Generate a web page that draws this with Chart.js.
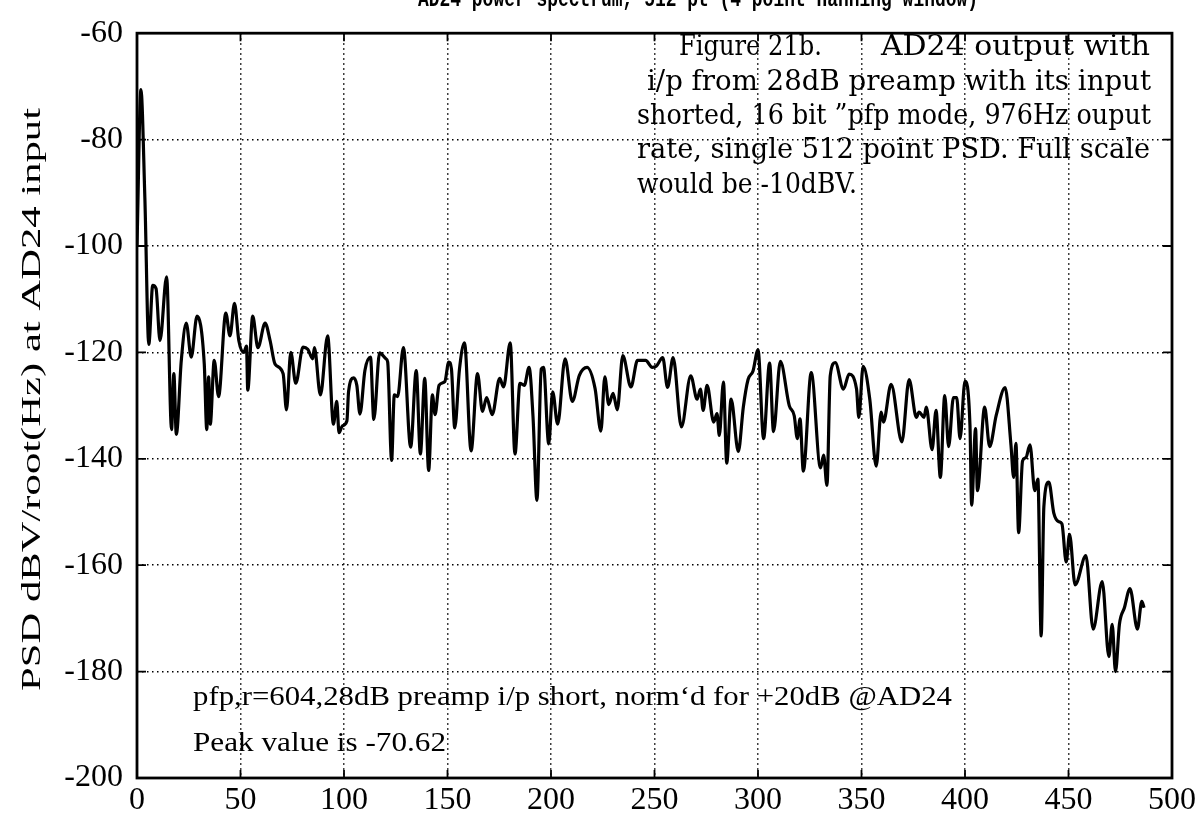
<!DOCTYPE html>
<html>
<head>
<meta charset="utf-8">
<script src="https://cdn.jsdelivr.net/npm/chart.js@4.4.1/dist/chart.umd.min.js"></script>
<style>
  html, body { margin: 0; padding: 0; background: #fff; }
  #wrap { width: 1202px; height: 824px; }
</style>
</head>
<body>
<div id="wrap"><canvas id="psdChart" width="1202" height="824"></canvas></div>
<script>
// frequency (Hz) and PSD (dBV/root(Hz))
const freqHz = [
  0, 1.9, 3.8, 5.7, 7.6, 9.2, 11.1, 14.3, 16.7, 17.8, 19.0, 21.4, 23.8, 26.2, 29.0,
  32.5, 33.7, 34.6, 35.4, 37.3, 39.4, 42.9, 44.9, 47.1, 49.2, 51.6, 52.9, 53.5, 55.9,
  58.4, 61.9, 64.3, 66.7, 70.6, 72.2, 74.3, 76.7, 80.2, 82.5, 84.9, 85.7, 88.6, 92.1,
  94.9, 96.5, 97.6, 99.2, 101.4, 102.2, 104.6, 106.2, 107.7, 110.1, 112.8, 114.4,
  117.2, 120.3, 121.1, 123.0, 124.3, 125.9, 128.7, 132.2, 134.9, 136.9, 139.0, 140.9,
  142.7, 144.0, 145.9, 148.7, 150.6, 151.9, 153.5, 155.8, 158.2, 161.4, 164.5, 166.9,
  168.9, 171.6, 175.2, 177.1, 180.3, 182.6, 185.0, 187.1, 189.4, 191.3, 193.2, 195.3,
  196.4, 198.9, 200.8, 203.2, 206.8, 210.3, 213.7, 217.4, 221.3, 224.1, 226.0, 227.9,
  230.0, 232.0, 234.7, 238.6, 241.8, 245.7, 248.9, 250.8, 254.0, 256.3, 259.0, 263.0,
  267.5, 270.6, 272.2, 273.5, 275.4, 278.6, 280.2, 281.3, 283.3, 284.9, 287.0, 290.5,
  292.9, 295.2, 297.6, 300.0, 302.7, 305.6, 307.5, 310.8, 315.1, 317.5, 319.0, 320.3,
  321.9, 325.7, 330.2, 331.7, 333.3, 334.9, 337.3, 341.3, 344.0, 347.6, 348.7, 350.8,
  354.0, 357.1, 359.5, 360.6, 364.3, 369.5, 373.0, 376.5, 377.8, 380.2, 381.3, 384.1,
  386.0, 388.1, 390.2, 392.1, 394.4, 396.0, 397.6, 400.0, 402.4, 403.2, 405.1, 406.0,
  409.5, 411.9, 415.1, 419.4, 422.2, 423.5, 424.6, 425.9, 427.8, 429.4, 431.4, 433.7,
  435.2, 436.8, 438.1, 440.5, 442.9, 445.2, 446.8, 448.9, 450.5, 453.2, 458.4, 461.9,
  466.3, 469.5, 471.1, 472.7, 474.6, 477.0, 479.7, 483.3, 485.4, 486.5
];
const psdDb = [
  -100, -70.62, -91, -118.5, -107.4, -108.0, -117.8, -105.8, -134.5, -124.0, -135.4, -121.5, -114.5, -120.9, -113.2,
  -122.2, -134.5, -124.6, -133.5, -121.5, -128.3, -112.6, -116.9, -110.8, -117.8, -120.0, -118.8, -127.1, -113.2,
  -119.1, -114.5, -117.8, -122.2, -124.0, -130.8, -120.0, -125.8, -119.0, -119.4, -121.2, -119.1, -128.0, -116.9,
  -133.5, -129.2, -135.1, -133.8, -132.9, -127.4, -124.8, -126.2, -131.6, -123.4, -120.9, -132.6,
  -120.1, -121.2, -121.8, -140.3, -128.0, -128.3, -119.1, -137.8, -123.4, -139.1, -124.9, -142.2,
  -128.0, -131.7, -126.2, -125.5, -121.8, -123.1, -134.2, -123.1, -118.2, -138.5, -124.0, -131.1,
  -128.5, -131.7, -124.9, -126.5, -118.2, -139.1, -125.8, -126.2, -122.8, -132.0, -147.8, -123.1,
  -122.8, -137.2, -127.4, -133.5, -121.2, -129.2, -124.3, -122.8, -126.8, -134.8, -124.6, -129.8,
  -127.7, -130.8, -120.6, -126.5, -121.5, -121.5, -122.8, -122.6, -121.0, -126.6, -121.0, -134.0,
  -124.4, -128.8, -126.9, -130.9, -126.2, -133.1, -131.5, -135.6, -125.6, -140.8, -128.8, -138.6,
  -130.3, -125.1, -123.5, -119.5, -136.2, -122.0, -134.9, -121.7, -130.0, -131.9, -136.2, -132.5,
  -142.3, -123.8, -141.7, -139.3, -145.0, -124.4, -121.9, -126.9, -124.1, -126.9, -132.2, -122.6,
  -128.8, -141.4, -131.2, -133.1, -126.0, -136.8, -125.1, -132.2, -131.2, -132.2, -130.3, -138.3,
  -130.9, -143.5, -128.1, -137.7, -128.5, -128.5, -136.2, -125.4, -133.7, -148.7, -134.3, -146.0,
  -130.3, -137.7, -131.8, -126.6, -137.4, -143.5, -137.1, -153.9, -140.4, -139.8, -137.4, -146.0,
  -143.8, -173.3, -149.0, -144.4, -150.2, -151.8, -152.2, -159.4, -154.2, -163.7, -158.2, -172.0,
  -163.1, -177.2, -171.1, -180.0, -171.1, -168.0, -164.4, -172.0, -166.8, -168.0
];
const xTickValues = [0, 50, 100, 150, 200, 250, 300, 350, 400, 450, 500];
const yTickValues = [-200, -180, -160, -140, -120, -100, -80, -60];

const yAxisTitle = 'PSD dBV/root(Hz) at AD24 input';
const noteLines = [
  'i/p from 28dB preamp with its input',
  'shorted, 16 bit \u201dpfp mode, 976Hz ouput',
  'rate, single 512 point PSD. Full scale',
  'would be -10dBV.'
];
const footNote1 = 'pfp,r=604,28dB preamp i/p short, norm\u2018d for +20dB @AD24';
const footNote2 = 'Peak value is -70.62';

// draw text stretched to a given width
function drawFitted(ctx, text, x, y, width, font, sy) {
  ctx.save();
  ctx.font = font;
  const w = ctx.measureText(text).width;
  ctx.translate(x, y);
  ctx.scale(width ? width / w : 1, sy || 1);
  ctx.fillText(text, 0, 0);
  ctx.restore();
}

// box round the plot + small inner ticks
const framePlugin = {
  id: 'frame',
  afterDatasetsDraw(chart) {
    const { ctx, chartArea: a, scales } = chart;
    ctx.save();
    ctx.strokeStyle = '#000';
    ctx.lineWidth = 1.8;
    ctx.beginPath();
    scales.x.ticks.forEach(t => {
      const px = scales.x.getPixelForValue(t.value);
      ctx.moveTo(px, a.bottom); ctx.lineTo(px, a.bottom - 8);
      ctx.moveTo(px, a.top); ctx.lineTo(px, a.top + 8);
    });
    scales.y.ticks.forEach(t => {
      const py = scales.y.getPixelForValue(t.value);
      ctx.moveTo(a.left, py); ctx.lineTo(a.left + 9, py);
      ctx.moveTo(a.right, py); ctx.lineTo(a.right - 9, py);
    });
    ctx.stroke();
    ctx.lineWidth = 2.8;
    ctx.strokeRect(a.left, a.top, a.right - a.left, a.bottom - a.top);
    ctx.restore();
  }
};

// annotations and axis title
const textPlugin = {
  id: 'notes',
  afterDraw(chart) {
    const ctx = chart.ctx;
    ctx.save();
    ctx.fillStyle = '#000';
    ctx.textBaseline = 'alphabetic';
    ctx.textAlign = 'left';

    // title, cut off by the top edge
    drawFitted(ctx, 'AD24 power spectrum, 512 pt (4 point Hanning window)', 418, 6, 560,
      'bold 22px "Liberation Mono"', 1.1);

    // figure caption, top right
    const cap = '25px "DejaVu Serif"';
    drawFitted(ctx, 'Figure 21b.', 679, 55, 143, cap, 1.12);
    drawFitted(ctx, 'AD24 output with', 881, 55, 269, cap, 1.12);
    drawFitted(ctx, noteLines[0], 647, 90, 504, cap, 1.12);
    drawFitted(ctx, noteLines[1], 637, 124, 514, cap, 1.12);
    drawFitted(ctx, noteLines[2], 637, 158, 513, cap, 1.12);
    drawFitted(ctx, noteLines[3], 637, 193, 220, cap, 1.12);

    // bottom left notes
    const foot = '26px "Liberation Serif"';
    drawFitted(ctx, footNote1, 193, 705, 759, foot, 1.08);
    drawFitted(ctx, footNote2, 193, 751, 253, foot, 1.08);

    // y axis title
    ctx.save();
    ctx.translate(40, 691);
    ctx.rotate(-Math.PI / 2);
    drawFitted(ctx, yAxisTitle, 0, 0, 583, '28px "Liberation Serif"', 1.0);
    ctx.restore();

    ctx.restore();
  }
};

const tickFont = { family: '"Liberation Serif", serif', size: 32 };

new Chart(document.getElementById('psdChart').getContext('2d'), {
  type: 'line',
  data: {
    datasets: [{
      data: freqHz.map((f, i) => ({ x: f, y: psdDb[i] })),
      borderColor: '#000',
      borderWidth: 3.2,
      pointRadius: 0,
      fill: false,
      cubicInterpolationMode: 'monotone'
    }]
  },
  options: {
    responsive: false,
    animation: false,
    layout: { padding: { top: 22, right: 30, left: 0, bottom: 0 } },
    plugins: { legend: { display: false }, tooltip: { enabled: false } },
    scales: {
      x: {
        type: 'linear',
        min: 0,
        max: 500,
        afterBuildTicks: (s) => { s.ticks = xTickValues.map(v => ({ value: v })); },
        afterFit: (s) => { s.height = 46; },
        ticks: { color: '#000', font: tickFont, padding: 3, maxRotation: 0, autoSkip: false },
        grid: { color: '#000', lineWidth: 1.5, drawTicks: false },
        border: { display: false, dash: [1.5, 3.5] }
      },
      y: {
        min: -200,
        max: -60,
        afterBuildTicks: (s) => { s.ticks = yTickValues.map(v => ({ value: v })); },
        afterFit: (s) => { s.width = 137; },
        ticks: { color: '#000', font: tickFont, padding: 14, autoSkip: false },
        grid: { color: '#000', lineWidth: 1.5, drawTicks: false },
        border: { display: false, dash: [1.5, 3.5] }
      }
    }
  },
  plugins: [framePlugin, textPlugin]
});
</script>
</body>
</html>
